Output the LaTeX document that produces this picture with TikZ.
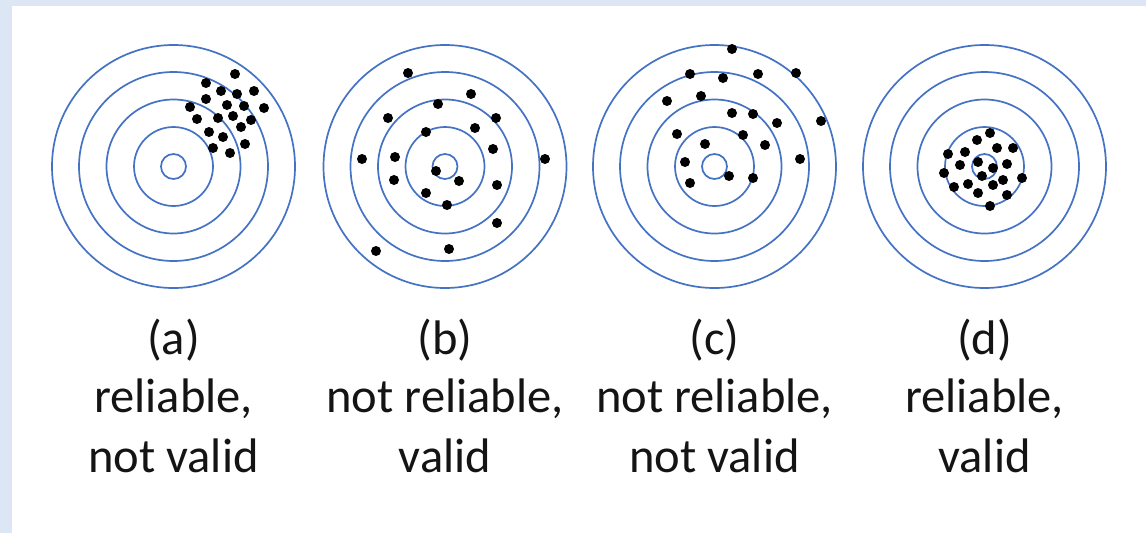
\documentclass[tikz,border=0pt]{standalone}
\usepackage{fontspec}
\setmainfont{Carlito}
\definecolor{bgband}{RGB}{220,230,244}
\definecolor{ringblue}{RGB}{68,114,196}
\definecolor{txt}{RGB}{20,20,20}
\begin{document}
\begin{tikzpicture}[x=1pt,y=-1pt,
  ring/.style={draw=ringblue,line width=1.7pt},
  dot/.style={fill=black},
  lbl/.style={anchor=base,inner sep=0pt,text=txt,font=\fontsize{48.5}{59}\selectfont}]
\useasboundingbox (0,0) rectangle (1146,533);
\fill[bgband] (0,0) rectangle (1146,533);
\fill[white] (12,6) rectangle (1146,533);
\coordinate (ca) at (173.5,166.5);
\coordinate (cb) at (445,166.5);
\coordinate (cc) at (714.5,166.5);
\coordinate (cd) at (984.5,166.5);
\foreach \c in {ca,cb,cc,cd}{
  \foreach \r in {12.5,39.5,67,94.5,121.5}{
    \draw[ring] (\c) circle[radius=\r];
  }
}
% (a)
\foreach \p in {(235,74),(206,83),(221,91),(237,94),(254,91),(206,99),(227,105),(244,106),(264,108),(190,107),(197,119),(218,118),(233,116),(251,120),(241,127),(209,132),(223,137),(245,144),(213,148),(230,153)}
  \fill[dot] \p circle[radius=5];
% (b)
\foreach \p in {(408,73),(471,94),(438,104),(388,118),(496,118),(475,128),(426,132),(493,149),(362,159),(395,157),(545,159),(436,171),(459,181),(394,180),(497,185),(426,193),(447,205),(497,223),(376,251),(449,249)}
  \fill[dot] \p circle[radius=5];
% (c)
\foreach \p in {(732,49),(690,74),(723,78),(758,74),(796,73),(667,101),(701,96),(732,113),(753,114),(777,123),(821,121),(677,134),(743,135),(705,144),(765,145),(800,159),(685,162),(729,176),(753,178),(690,183)}
  \fill[dot] \p circle[radius=5];
% (d)
\foreach \p in {(990,133),(977,140),(997,148),(1013,148),(965,152),(948,154),(978,162),(960,165),(993,168),(1007,164),(944,173),(982,176),(1022,178),(1003,180),(968,184),(993,185),(954,187),(978,193),(1007,195),(990,206)}
  \fill[dot] \p circle[radius=5];
% labels
\node[lbl] (la1) at (173.5,354) {(a)};
\node[lbl] (la2) at (173.5,412) {reliable,};
\node[lbl] (la3) at (173.5,472) {not valid};
\node[lbl] (lb1) at (445,354) {(b)};
\node[lbl] (lb2) at (445,412) {not reliable,};
\node[lbl] (lb3) at (445,472) {valid};
\node[lbl] (lc1) at (714.5,354) {(c)};
\node[lbl] (lc2) at (714.5,412) {not reliable,};
\node[lbl] (lc3) at (714.5,472) {not valid};
\node[lbl] (ld1) at (984.5,354) {(d)};
\node[lbl] (ld2) at (984.5,412) {reliable,};
\node[lbl] (ld3) at (984.5,472) {valid};
\end{tikzpicture}
\end{document}
